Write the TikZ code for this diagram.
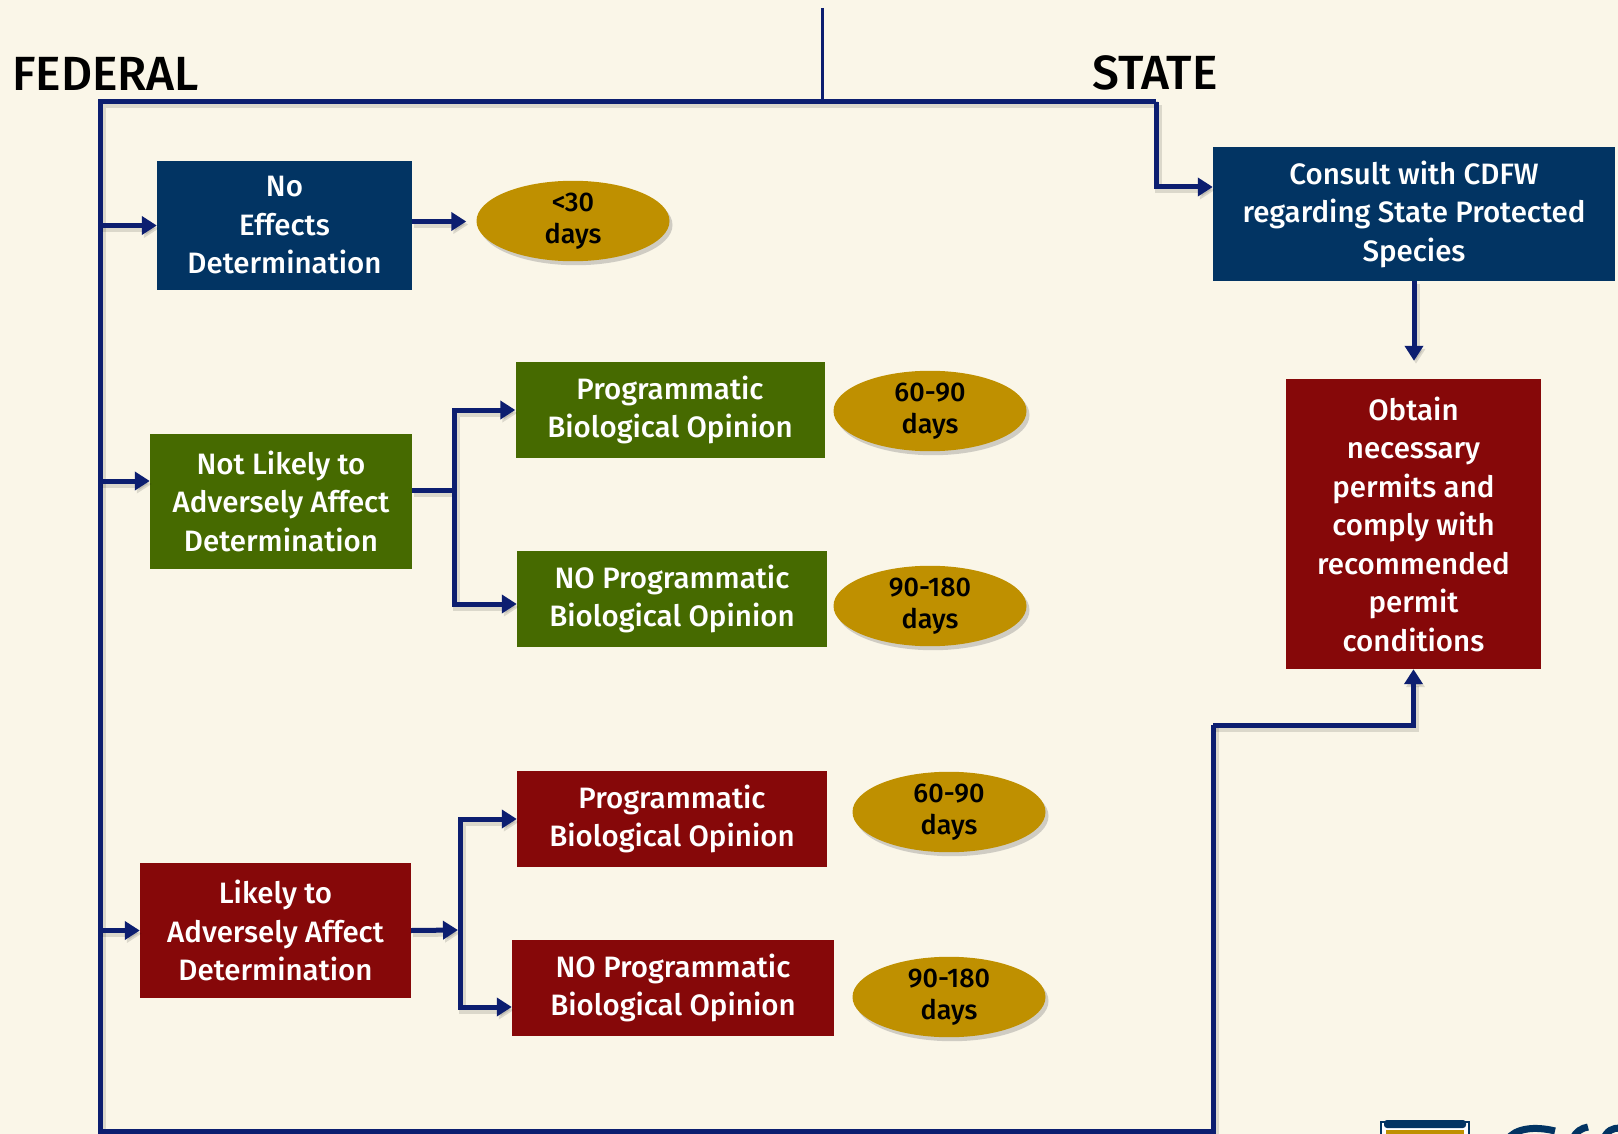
\documentclass[tikz,border=0pt]{standalone}
\usepackage{fontspec}
\setmainfont{Fira Sans}[UprightFont=* Medium, BoldFont=* Bold]
\usetikzlibrary{arrows.meta,shadows,shapes.geometric}
\definecolor{bg}{HTML}{FAF6E8}
\definecolor{navybox}{HTML}{023463}
\definecolor{greenbox}{HTML}{466A00}
\definecolor{redbox}{HTML}{860809}
\definecolor{gold}{HTML}{BF9000}
\definecolor{linec}{HTML}{0C1E70}
\begin{document}
\begin{tikzpicture}[x=1pt,y=-1pt,
  box/.style={rectangle, inner sep=0pt, text=white, align=center,
    font=\fontsize{29.5}{38.5}\selectfont},
  navy/.style={box, fill=navybox},
  green/.style={box, fill=greenbox},
  red/.style={box, fill=redbox},
  oval/.style={ellipse, fill=gold, minimum width=193pt, minimum height=69pt,
    inner sep=0pt, align=center, text=black, font=\fontsize{27}{32.5}\selectfont,
    drop shadow={opacity=0.35, shadow xshift=3pt, shadow yshift=-4pt}},
  conn/.style={draw=linec, line width=5pt,
    preaction={draw=black, opacity=0.12, line width=7pt,
      transform canvas={shift={(2pt,-3pt)}}}},
  arr/.style={conn, -{Triangle[length=15pt,width=18pt]}},
  head/.style={anchor=base west, inner sep=0pt, text=black, font=\fontsize{48}{48}\selectfont},
]
\useasboundingbox (0,0) rectangle (1618,1134);
\fill[bg] (0,0) rectangle (1618,1134);

% headings
\node[head] (fed) at (12,91) {FEDERAL};
\node[head] (state) at (1092,90) {STATE};

% boxes
\node[navy, minimum width=255pt, minimum height=129pt] (noeff) at (284.5,225.5) {No\\Effects\\Determination};
\node[green, minimum width=262pt, minimum height=135pt] (nl) at (281,501) {Not Likely to\\Adversely Affect\\Determination};
\node[red, minimum width=271pt, minimum height=135pt] (lk) at (275.5,930.5) {Likely to\\Adversely Affect\\Determination};

\node[green, minimum width=309pt, minimum height=96pt] (pg) at (670,410) {Programmatic\\Biological Opinion};
\node[green, minimum width=310pt, minimum height=96pt] (ng) at (672,599) {NO Programmatic\\Biological Opinion};
\node[red, minimum width=310pt, minimum height=96pt] (pr) at (672,819) {Programmatic\\Biological Opinion};
\node[red, minimum width=322pt, minimum height=96pt] (nr) at (673,988) {NO Programmatic\\Biological Opinion};

\node[navy, minimum width=402pt, minimum height=134pt] (consult) at (1414,214) {Consult with CDFW\\regarding State Protected\\Species};
\node[red, minimum width=255pt, minimum height=290pt] (obtain) at (1413.5,524) {Obtain\\necessary\\permits and\\comply with\\recommended\\permit\\conditions};

% ovals
\node[oval] (o1) at (573,221) {<30\\days};
\node[oval] (o2) at (930,411) {60-90\\days};
\node[oval] (o3) at (930,606) {90-180\\days};
\node[oval] (o4) at (949,812) {60-90\\days};
\node[oval] (o5) at (949,997) {90-180\\days};

% frame coordinates
\coordinate (top) at (822,8);
\coordinate (topJ) at (822,102);
\coordinate (TL) at (100,102);
\coordinate (TR) at (1156,102);
\coordinate (BL) at (100,1131);
\coordinate (BR) at (1213,1131);
\coordinate (up) at (1213,725);
\coordinate (jn) at (454,490);
\coordinate (jl) at (460,930);

% connectors
\draw[linec, line width=3pt] (top) -- (topJ);
\draw[conn] (TR) -- (TL) -- (BL) -- (BR) -- (up);
\draw[arr] (up) -| (obtain.south);
\draw[arr] (TR) |- ([yshift=27pt]consult.west);
\draw[arr, shorten >=18pt] (consult.south) -- (consult.south |- obtain.north);

\draw[arr] (noeff.west -| TL) -- (noeff.west);
\draw[arr] ([yshift=20pt]nl.west -| TL) -- ([yshift=20pt]nl.west);
\draw[arr] (lk.west -| TL) -- (lk.west);

\draw[arr, shorten >=10pt] ([yshift=4pt]noeff.east) -- ([yshift=4pt]noeff.east -| o1.west);

\draw[conn] (nl.east |- jn) -- (jn);
\draw[arr] ([yshift=2pt]jn) |- (pg.west);
\draw[arr] ([yshift=2pt]jn) |- ([yshift=-5pt]ng.west);

\draw[arr, shorten >=2pt] (lk.east) -- (jl);
\draw[arr] (jl) |- (pr.west);
\draw[arr] (jl) |- ([yshift=-19pt]nr.west);

% partial logo at bottom right
\fill[white] (1381,1122) rectangle (1469,1140);
\draw[navybox, line width=1.5pt] (1381,1122) rectangle (1469,1140);
\fill[navybox, rounded corners=3pt] (1384,1120) rectangle (1466,1128);
\fill[gold] (1386,1130) rectangle (1464,1140);
\draw[navybox, line width=7pt] (1507,1140) .. controls (1515,1128) and (1535,1126) .. (1555,1131);
\draw[navybox, line width=7pt] (1572,1140) .. controls (1576,1131) and (1582,1128) .. (1588,1127);
\draw[navybox, line width=7pt] (1603,1140) .. controls (1607,1130) and (1613,1128) .. (1620,1128);
\end{tikzpicture}
\end{document}
